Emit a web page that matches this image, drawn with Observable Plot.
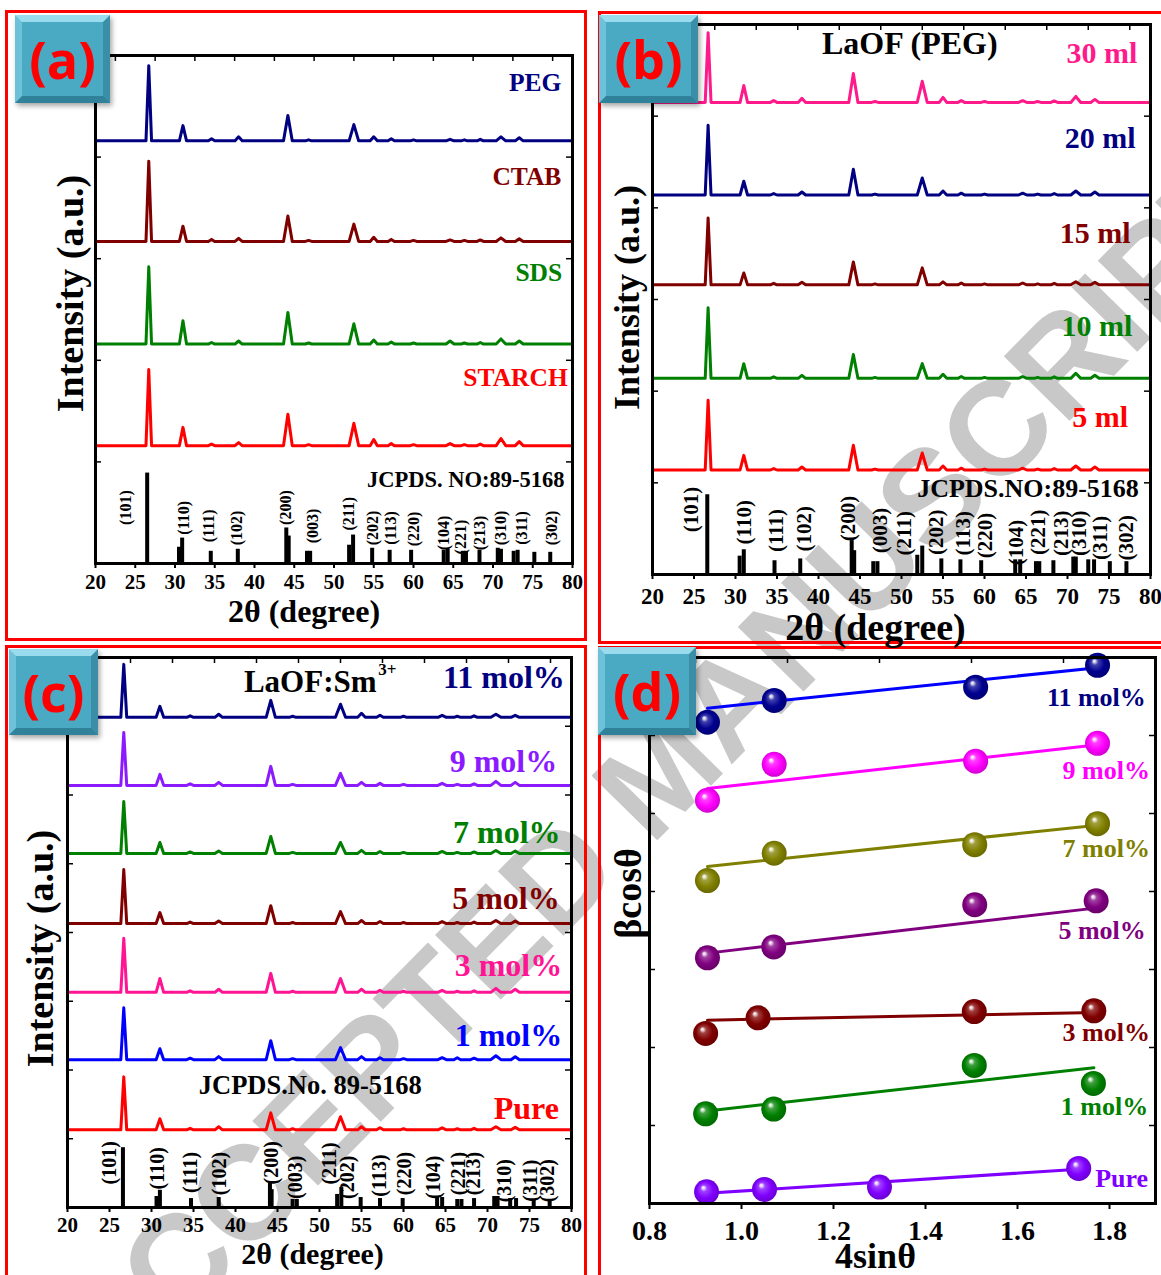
<!DOCTYPE html>
<html>
<head>
<meta charset="utf-8">
<script src="https://cdn.jsdelivr.net/npm/d3@7"></script>
<script src="https://cdn.jsdelivr.net/npm/@observablehq/plot@0.6"></script>
<style>
  body { margin: 0; background: #fff; }
  #fig { position: relative; width: 1161px; height: 1275px; overflow: hidden; background: #fff; }
  .wm { position: absolute; left: 660px; top: 772px; transform: translate(-50%, -50%) rotate(-45.5deg);
        font: 700 134px "Liberation Sans", Arial, sans-serif; color: #c8c8c8; white-space: nowrap; line-height: 1; z-index: 0; }
  .panel { position: absolute; border: 3px solid #ff0000; box-sizing: border-box; z-index: 1; }
  .plot { position: absolute; z-index: 2; }
  .tag { position: absolute; box-sizing: border-box; z-index: 3; background: #4aa9c3;
         border-style: solid; border-width: 7px; border-color: #9adcee #3a8fa7 #2f8299 #6dc2da;
         box-shadow: 2px 3px 5px rgba(0,0,0,0.35); color: #ff0000;
         font: 700 52px "Open Sans", "Liberation Sans", sans-serif; display: flex; align-items: center; justify-content: center; line-height: 1; }
</style>
</head>
<body>
<div id="fig">
  <div class="wm">ACCEPTED MANUSCRIPT</div>
  <div class="panel" style="left:5px;top:10px;width:582px;height:631px"></div>
  <div class="panel" style="left:598px;top:11px;width:580px;height:633px"></div>
  <div class="panel" style="left:5px;top:645px;width:582px;height:640px"></div>
  <div class="panel" style="left:598px;top:646px;width:580px;height:640px"></div>
</div>
<script>
// ---------- XRD: shared reflection positions (2θ, deg) and half base widths ----------
const peakPos = [26.7, 31.0, 34.6, 38.0, 44.2, 46.8, 52.5, 55.0, 57.2, 60.0, 64.6, 66.4, 68.4, 71.0, 73.3];
const peakHalfWidth = [0.35, 0.45, 0.4, 0.45, 0.55, 0.4, 0.6, 0.45, 0.4, 0.4, 0.5, 0.4, 0.4, 0.6, 0.5];
const hkl = ["(101)", "(110)", "(111)", "(102)", "(200)", "(003)", "(211)", "(202)", "(113)", "(220)", "(104)", "(221)", "(213)", "(310)", "(311)", "(302)"];
const twoThetaTicks = [20, 25, 30, 35, 40, 45, 50, 55, 60, 65, 70, 75, 80];

// ---------- (a) surfactants ----------
const aNames = ["PEG", "CTAB", "SDS", "STARCH"];
const aColors = ["#000080", "#800000", "#008000", "#ff0000"];
const aBaseline = [416, 317, 216, 116];
const aHeights = [
  [74, 15, 2, 4, 25, 1, 16, 4, 2, 1, 1.5, 1, 1.5, 4, 3],
  [79, 15, 2, 3, 25, 1, 17, 4, 2, 1, 1.5, 1, 1.5, 3.5, 2.5],
  [76, 23, 1.5, 3, 31, 1, 20, 4, 2, 1, 3, 1, 1.5, 5, 3],
  [75, 18, 1.5, 3, 31, 1, 22, 6, 2, 1, 2, 1, 1.5, 7, 4]
];
const aLabelX = [78.6, 78.6, 78.7, 79.4];
const aLabelY = [473, 381, 286, 183];
const aStickPos = [26.5, 30.5, 30.9, 34.5, 37.9, 44.0, 44.3, 46.6, 47.0, 51.9, 52.4, 54.8, 57.0, 59.7, 63.8, 64.3, 66.2, 66.6, 68.3, 70.6, 71.0, 72.6, 73.1, 75.2, 77.2];
const aStickH = [89, 16, 25, 12, 14, 35, 27, 12, 12, 18, 28, 15, 13, 13, 13, 14, 12, 12, 13, 15, 14, 12, 13, 11, 11];
const aHklX = [23.8, 31.1, 34.3, 37.8, 44.0, 47.3, 51.9, 54.9, 57.2, 60.0, 63.8, 66.0, 68.3, 71.0, 73.6, 77.4];
const aHklY = [55, 45, 37, 35, 55, 37, 49, 35, 35, 34, 30, 26, 30, 35, 35, 35];

// ---------- (b) PEG volume ----------
const bNames = ["30 ml", "20 ml", "15 ml", "10 ml", "5 ml"];
const bColors = ["#ff1a8c", "#000080", "#800000", "#008000", "#ff0000"];
const bBaseline = [515, 414, 316, 214, 114];
const bHeights = [
  [76, 18.5, 2, 4.4, 31.6, 1, 23, 5.5, 2, 1, 2, 1, 1.6, 6.5, 3.3],
  [76, 15, 1.6, 3.3, 28, 1, 18.5, 4.4, 2, 1, 2, 1, 1.6, 4.4, 3.3],
  [73, 13, 1.6, 2.7, 25, 1, 18.5, 3.3, 2, 1, 2, 1, 1.6, 3.3, 2.7],
  [77, 16, 1.6, 3.3, 26, 1, 16, 4.4, 2, 1, 2, 1, 1.6, 5.5, 3.3],
  [76, 16, 1.6, 3.3, 27, 1, 18.5, 4.4, 2, 1, 2, 1, 1.6, 4.4, 3.3]
];
const bLabelX = [78.4, 78.2, 77.6, 77.8, 77.3];
const bLabelY = [569, 476, 372, 271, 171];
const bStickPos = [26.6, 30.5, 31.0, 34.7, 37.8, 44.0, 44.3, 46.6, 47.1, 51.9, 52.5, 54.8, 57.1, 59.6, 63.7, 64.3, 66.2, 66.6, 68.3, 70.7, 71.0, 72.5, 73.2, 75.1, 77.1];
const bStickH = [87, 20, 27, 15, 17, 37, 26, 14, 14, 21, 31, 17, 16, 15, 16, 16, 14, 14, 15, 19, 19, 16, 16, 14, 14];
const bHklX = [24.7, 31.1, 34.9, 38.3, 43.6, 47.5, 50.3, 54.2, 57.5, 60.1, 63.8, 66.5, 69.2, 71.4, 74.0, 77.1];
const bHklY = [71, 57, 48, 50, 61, 48, 45, 46, 45, 42.5, 35, 46, 45, 45, 40, 40];

// ---------- (c) Sm3+ doping ----------
const cNames = ["11 mol%", "9 mol%", "7 mol%", "5 mol%", "3 mol%", "1 mol%", "Pure"];
const cColors = ["#000080", "#8c1aff", "#008000", "#800000", "#ff1493", "#0000ff", "#ff0000"];
const cBaseline = [713, 614, 515, 413, 313, 215, 113];
const cHeights = [
  [77, 16, 2.2, 4.4, 24.7, 1.5, 19, 5.8, 2.9, 1.5, 2.9, 1.5, 2.2, 4.4, 2.9],
  [77, 16, 2.2, 4.4, 27.6, 1.5, 17.5, 4.4, 2.9, 1.5, 2.9, 1.5, 2.2, 5.8, 4.4],
  [75.6, 16, 2.2, 3.6, 24.7, 1.5, 16, 4.4, 2.9, 1.5, 2.9, 1.5, 2.2, 4.4, 3.6],
  [78.5, 16, 2.2, 3.6, 26, 1.5, 17.5, 4.4, 2.9, 1.5, 2.9, 1.5, 2.2, 4.4, 3.6],
  [78.5, 20, 2.2, 4.4, 27.6, 1.5, 20, 4.4, 2.9, 1.5, 2.9, 1.5, 2.2, 5.8, 4.4],
  [75.6, 16, 2.2, 4.4, 27.6, 1.5, 17.5, 4.4, 2.9, 1.5, 2.9, 2.9, 2.2, 5.8, 4.4],
  [77, 16, 2.2, 4.4, 24.7, 1.5, 19, 4.4, 2.9, 1.5, 2.9, 1.5, 2.2, 4.4, 3.6]
];
const cLabelX = [79.2, 78.3, 78.7, 78.6, 78.9, 78.9, 78.5];
const cLabelY = [771, 649, 545, 449, 352, 250, 144];
const cStickPos = [26.6, 30.6, 31.0, 34.7, 38.0, 44.1, 44.3, 46.8, 47.3, 52.1, 52.6, 54.9, 57.2, 59.9, 64.0, 64.6, 66.4, 66.9, 68.4, 70.8, 71.2, 72.7, 73.4, 75.5, 77.4];
const cStickH = [87, 16, 25, 13, 14.5, 36, 26, 11.6, 11.6, 19, 29, 14.5, 13, 13, 14.5, 14.5, 11.6, 11.6, 13, 16, 16, 13, 13, 11.6, 10];
const cHklX = [25.0, 30.7, 34.7, 38.1, 44.3, 47.1, 51.2, 53.4, 57.2, 60.1, 63.6, 66.5, 68.4, 72.0, 75.1, 77.2];
const cHklY = [65, 57, 51, 49.5, 65, 44, 64, 44, 46.5, 49.5, 44, 49.5, 49.5, 39, 39, 39];

// ---------- (d) Williamson–Hall: βcosθ vs 4sinθ ----------
const dNames = ["11 mol%", "9 mol%", "7 mol%", "5 mol%", "3 mol%", "1 mol%", "Pure"];
const dBallColors = ["#000090", "#ff00ff", "#808000", "#800080", "#800000", "#008000", "#8000ff"];
const dLineColors = ["#0000ff", "#ff00ff", "#808000", "#800080", "#800000", "#008000", "#8000ff"];
const dTextColors = ["#000080", "#ff00ff", "#808000", "#800080", "#800000", "#008000", "#8000ff"];
const dX = [
  [0.926, 1.071, 1.509, 1.774],
  [0.926, 1.071, 1.509, 1.774],
  [0.926, 1.071, 1.507, 1.774],
  [0.926, 1.070, 1.507, 1.771],
  [0.922, 1.036, 1.506, 1.766],
  [0.922, 1.070, 1.506, 1.765],
  [0.924, 1.050, 1.300, 1.733]
];
const dY = [
  [6.17, 6.45, 6.62, 6.90],
  [5.17, 5.63, 5.67, 5.90],
  [4.14, 4.49, 4.60, 4.87],
  [3.15, 3.29, 3.83, 3.88],
  [2.18, 2.38, 2.46, 2.47],
  [1.15, 1.21, 1.77, 1.54],
  [0.15, 0.18, 0.21, 0.45]
];
const dFitX = [[0.926, 1.774], [0.926, 1.774], [0.926, 1.774], [0.926, 1.774], [0.926, 1.774], [0.93, 1.766], [0.924, 1.733]];
const dFitY = [[6.35, 6.87], [5.32, 5.88], [4.32, 4.85], [3.21, 3.79], [2.35, 2.45], [1.19, 1.74], [0.13, 0.44]];
const dLabelX = [1.879, 1.888, 1.888, 1.879, 1.888, 1.884, 1.884];
const dLabelY = [6.49, 5.55, 4.55, 3.50, 2.19, 1.24, 0.32];
const dTicks = [0.8, 1.0, 1.2, 1.4, 1.6, 1.8];

// ---------- drawing ----------
const serif = "'Liberation Serif', 'Times New Roman', serif";
const fig = document.getElementById("fig");

function place(node, left, top) {
  const holder = document.createElement("div");
  holder.className = "plot";
  holder.style.left = left + "px";
  holder.style.top = top + "px";
  holder.appendChild(node);
  fig.appendChild(holder);
}

function addTag(text, left, top, w, h) {
  const t = document.createElement("div");
  t.className = "tag";
  t.style.left = left + "px"; t.style.top = top + "px";
  t.style.width = w + "px"; t.style.height = h + "px";
  t.textContent = text;
  fig.appendChild(t);
}

function txt(s, o) {
  return Plot.text([s], {text: d => d, fill: "black", fontWeight: "bold", fontFamily: serif, ...o});
}

// inward tick marks on the top, left and right edges of the frame
function frameTicks(innerW, innerH, xTop, yVals) {
  return [
    Plot.tickX(xTop, {x: d => d, insetBottom: innerH - 6, stroke: "black", strokeWidth: 1.5}),
    Plot.tickY(yVals, {y: d => d, insetRight: innerW - 6, stroke: "black", strokeWidth: 1.5}),
    Plot.tickY(yVals, {y: d => d, insetLeft: innerW - 6, stroke: "black", strokeWidth: 1.5})
  ];
}

function xrdPlot(c) {
  const innerW = c.width - c.ml - c.mr, innerH = c.height - c.mt - c.mb;
  const marks = [];
  c.names.forEach((name, i) => {
    const b = c.base[i];
    const pts = [[20, b]];
    peakPos.forEach((p, k) => {
      pts.push([p - peakHalfWidth[k], b], [p, b + c.heights[i][k]], [p + peakHalfWidth[k], b]);
    });
    pts.push([80, b]);
    marks.push(Plot.line(pts, {x: d => d[0], y: d => d[1], stroke: c.colors[i], strokeWidth: 3, strokeLinejoin: "round"}));
    marks.push(Plot.text([name], {x: () => c.labelX[i], y: () => c.labelY[i], text: d => d, fill: c.colors[i],
      textAnchor: "end", lineAnchor: "middle", fontSize: c.seriesSize, fontWeight: "bold", fontFamily: serif}));
  });
  // standard pattern sticks
  marks.push(Plot.ruleX(c.stickPos, {x: d => d, y1: 0, y2: (d, i) => c.stickH[i], stroke: "black", strokeWidth: 4}));
  marks.push(Plot.text(hkl, {x: (d, i) => c.hklX[i], y: (d, i) => c.hklY[i], text: d => d, rotate: -90,
    textAnchor: "middle", lineAnchor: "middle", fill: "black", fontWeight: "bold", fontFamily: serif, fontSize: c.hklSize}));
  marks.push(...c.extra);
  marks.push(...frameTicks(innerW, innerH, d3.range(22.5, 80, 5), d3.range(0, c.yMax + 1, 100)));
  marks.push(Plot.axisX(twoThetaTicks, {anchor: "bottom", tickSize: 5, tickPadding: c.tickPad, strokeWidth: 2,
    fontSize: c.tickSize, fontWeight: "bold", fontFamily: serif, fill: "black", label: null, tickFormat: d => d}));
  marks.push(txt("2θ (degree)", {frameAnchor: "bottom", dx: c.xtDx, dy: c.xtDy, lineAnchor: "middle", fontSize: c.xtSize}));
  marks.push(txt("Intensity (a.u.)", {frameAnchor: "left", rotate: -90, dx: c.ylDx, dy: c.ylDy, textAnchor: "middle", lineAnchor: "middle", fontSize: c.ylSize}));
  marks.push(Plot.frame({stroke: "black", strokeWidth: 3}));
  return Plot.plot({
    width: c.width, height: c.height,
    marginLeft: c.ml, marginRight: c.mr, marginTop: c.mt, marginBottom: c.mb,
    x: {domain: [20, 80]},
    y: {domain: [0, c.yMax], axis: null},
    style: {background: "transparent", overflow: "visible", color: "black", fontFamily: serif},
    marks
  });
}

// (a)
place(xrdPlot({
  width: 590, height: 640, ml: 95, mr: 18, mt: 55, mb: 77, yMax: 500,
  names: aNames, colors: aColors, base: aBaseline, heights: aHeights, labelX: aLabelX, labelY: aLabelY,
  stickPos: aStickPos, stickH: aStickH, hklX: aHklX, hklY: aHklY,
  seriesSize: 25.5, hklSize: 16, tickSize: 21, tickPad: 6, xtSize: 32, xtDx: -30, xtDy: 48,
  ylSize: 38, ylDx: -25, ylDy: -16,
  extra: [txt("JCPDS. NO:89-5168", {x: () => 79.0, y: () => 82, textAnchor: "end", lineAnchor: "middle", fontSize: 22.5})]
}), 0, 0);

// (b)
place(xrdPlot({
  width: 566, height: 645, ml: 57, mr: 11, mt: 24, mb: 71, yMax: 600,
  names: bNames, colors: bColors, base: bBaseline, heights: bHeights, labelX: bLabelX, labelY: bLabelY,
  stickPos: bStickPos, stickH: bStickH, hklX: bHklX, hklY: bHklY,
  seriesSize: 30, hklSize: 21, tickSize: 23, tickPad: 8, xtSize: 38, xtDx: -26, xtDy: 53,
  ylSize: 36, ylDx: -25, ylDy: -2,
  extra: [
    txt("JCPDS.NO:89-5168", {x: () => 78.6, y: () => 94, textAnchor: "end", lineAnchor: "middle", fontSize: 26}),
    txt("LaOF (PEG)", {x: () => 51.0, y: () => 579, textAnchor: "middle", lineAnchor: "middle", fontSize: 32})
  ]
}), 595, 0);

// (c)
place(xrdPlot({
  width: 590, height: 630, ml: 67, mr: 19, mt: 12, mb: 68, yMax: 800,
  names: cNames, colors: cColors, base: cBaseline, heights: cHeights, labelX: cLabelX, labelY: cLabelY,
  stickPos: cStickPos, stickH: cStickH, hklX: cHklX, hklY: cHklY,
  seriesSize: 32, hklSize: 20, tickSize: 21, tickPad: 5, xtSize: 30, xtDx: -7, xtDy: 47,
  ylSize: 38, ylDx: -27, ylDy: 16,
  extra: [
    txt("JCPDS.No. 89-5168", {x: () => 48.9, y: () => 177, textAnchor: "middle", lineAnchor: "middle", fontSize: 26.5}),
    txt("LaOF:Sm", {x: () => 41.0, y: () => 764, textAnchor: "start", lineAnchor: "middle", fontSize: 31}),
    txt("3+", {x: () => 57.0, y: () => 783, textAnchor: "start", lineAnchor: "middle", fontSize: 17})
  ]
}), 0, 645);

// (d) ball gradients
const gdefs = d3.select("body").append("svg").attr("width", 0).attr("height", 0)
  .style("position", "absolute").append("defs");
dBallColors.forEach((col, i) => {
  const g = gdefs.append("radialGradient").attr("id", "ball" + i)
    .attr("cx", "50%").attr("cy", "50%").attr("r", "55%").attr("fx", "36%").attr("fy", "32%");
  g.append("stop").attr("offset", "0%").attr("stop-color", "#ffffff");
  g.append("stop").attr("offset", "10%").attr("stop-color", d3.interpolateRgb(col, "#fff")(0.8));
  g.append("stop").attr("offset", "24%").attr("stop-color", d3.interpolateRgb(col, "#fff")(0.25));
  g.append("stop").attr("offset", "60%").attr("stop-color", col);
  g.append("stop").attr("offset", "100%").attr("stop-color", d3.color(col).darker(0.7).formatHex());
});

(function () {
  const width = 566, height = 630, ml = 54, mr = 6, mt = 12, mb = 72;
  const innerW = width - ml - mr, innerH = height - mt - mb;
  const marks = [];
  dNames.forEach((name, i) => {
    const fit = dFitX[i].map((x, k) => [x, dFitY[i][k]]);
    marks.push(Plot.line(fit, {x: d => d[0], y: d => d[1], stroke: dLineColors[i], strokeWidth: 3}));
  });
  dNames.forEach((name, i) => {
    const pts = dX[i].map((x, k) => [x, dY[i][k]]);
    marks.push(Plot.dot(pts, {x: d => d[0], y: d => d[1], r: 12.5, fill: `url(#ball${i})`, stroke: "none"}));
    marks.push(Plot.text([name], {x: () => dLabelX[i], y: () => dLabelY[i], text: d => d, fill: dTextColors[i],
      textAnchor: "end", lineAnchor: "middle", fontSize: 26, fontWeight: "bold", fontFamily: serif}));
  });
  marks.push(...frameTicks(innerW, innerH, [0.9, 1.1, 1.3, 1.5, 1.7], d3.range(0, 8, 1)));
  marks.push(Plot.axisX(dTicks, {anchor: "bottom", tickSize: 6, tickPadding: 11, strokeWidth: 2,
    fontSize: 28, fontWeight: "bold", fontFamily: serif, fill: "black", label: null, tickFormat: d3.format(".1f")}));
  marks.push(txt("4sinθ", {frameAnchor: "bottom", dx: -27, dy: 53, lineAnchor: "middle", fontSize: 36}));
  marks.push(txt("βcosθ", {frameAnchor: "left", rotate: -90, dx: -21, dy: -37, textAnchor: "middle", lineAnchor: "middle", fontSize: 38}));
  marks.push(Plot.frame({stroke: "black", strokeWidth: 3}));
  place(Plot.plot({
    width, height, marginLeft: ml, marginRight: mr, marginTop: mt, marginBottom: mb,
    x: {domain: [0.8, 1.9]},
    y: {domain: [0, 7], axis: null},
    style: {background: "transparent", overflow: "visible", color: "black", fontFamily: serif},
    marks
  }), 595, 645);
})();

addTag("(a)", 15, 15, 95, 88);
addTag("(b)", 599, 15, 99, 88);
addTag("(c)", 9, 649, 89, 86);
addTag("(d)", 598, 647, 98, 88);
</script>
</body>
</html>
